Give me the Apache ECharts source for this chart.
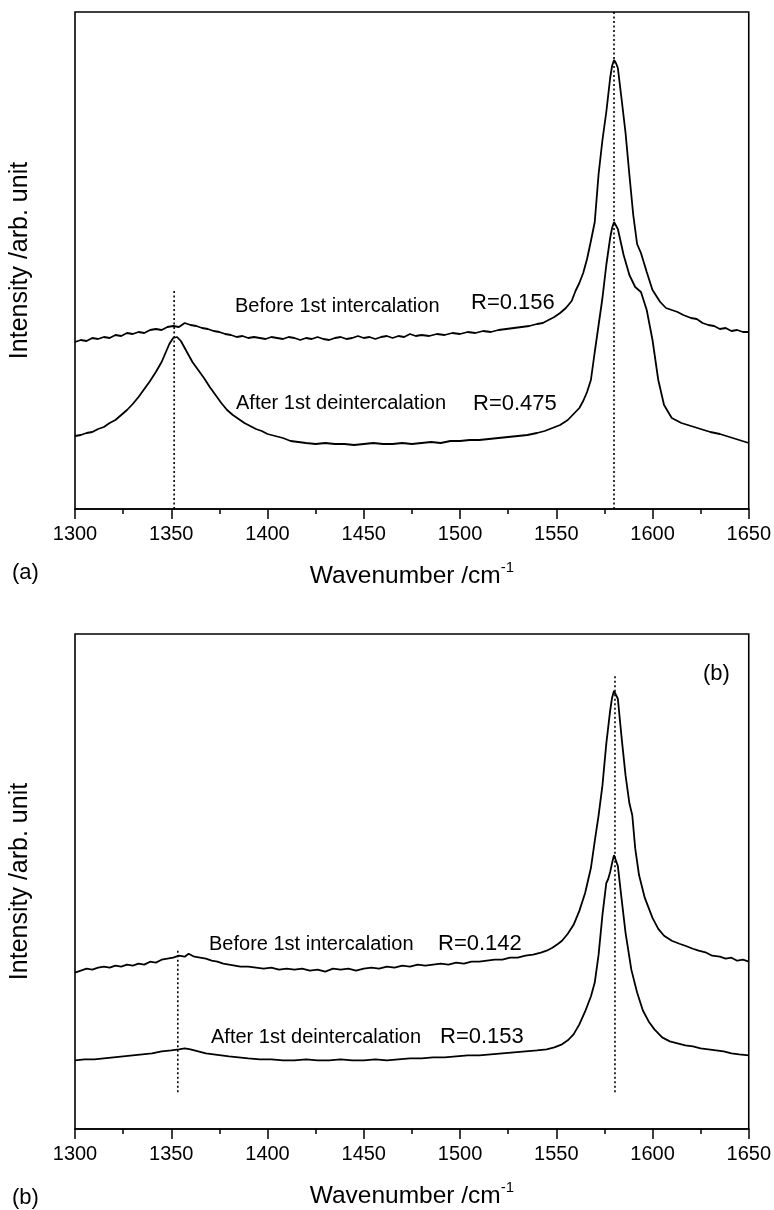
<!DOCTYPE html>
<html>
<head>
<meta charset="utf-8">
<script src="https://cdn.jsdelivr.net/npm/echarts@6/dist/echarts.min.js"></script>
<style>
html,body{margin:0;padding:0;background:#fff;}
#chart{width:774px;height:1210px;}
</style>
</head>
<body>
<div id="chart"></div>
<script>
// ---- data (wavenumber, intensity arb. unit) ----
const xTicks = [1300, 1350, 1400, 1450, 1500, 1550, 1600, 1650];

const aBefore = [[1300,167],[1303,169],[1306,168],[1309,171],[1312,170],[1315,172],[1318,171],[1321,174],[1324,173],[1327,176],[1330,175],[1333,177],[1336,176],[1339,179],[1342,180],[1345,179],[1348,182],[1351,183],[1354,182],[1357,186],[1360,184],[1363,183],[1366,181],[1369,180],[1372,178],[1375,177],[1378,175],[1381,174],[1384,172],[1387,173],[1390,171],[1393,172],[1396,171],[1399,170],[1402,172],[1405,171],[1408,170],[1411,172],[1414,171],[1417,169],[1420,171],[1423,170],[1426,172],[1429,170],[1432,169],[1435,171],[1438,172],[1441,170],[1444,171],[1447,173],[1450,171],[1453,172],[1456,170],[1459,172],[1462,173],[1465,171],[1468,173],[1471,172],[1474,175],[1477,173],[1480,174],[1484,173],[1488,175],[1492,174],[1496,176],[1500,175],[1504,177],[1508,176],[1512,178],[1516,177],[1520,179],[1524,180],[1528,181],[1532,182],[1536,183],[1540,185],[1543,186],[1546,189],[1549,192],[1552,196],[1555,201],[1558,208],[1560,218],[1562,226],[1564,236],[1566,250],[1568,268],[1570,287],[1572,335],[1574,369],[1576,397],[1578,431],[1579,443],[1580,449],[1581,446],[1582,441],[1584,409],[1586,376],[1588,334],[1590,294],[1592,265],[1594,256],[1597,237],[1600,219],[1604,207],[1607,201],[1610,199],[1613,197],[1616,194],[1620,191],[1623,190],[1626,186],[1629,184],[1632,183],[1635,180],[1638,181],[1641,178],[1644,179],[1647,177],[1650,177]];

const aAfter = [[1300,73],[1303,74],[1306,76],[1309,77],[1312,80],[1315,82],[1318,86],[1321,89],[1324,94],[1327,99],[1330,105],[1333,112],[1336,120],[1339,128],[1342,137],[1345,147],[1347,156],[1349,165],[1351,171],[1352,172],[1353,172],[1355,168],[1357,161],[1359,154],[1361,147],[1364,139],[1367,131],[1370,122],[1373,114],[1376,106],[1379,99],[1382,94],[1385,90],[1388,86],[1391,83],[1394,80],[1397,78],[1400,75],[1404,73],[1408,71],[1412,68],[1416,67],[1420,66],[1425,65],[1430,66],[1435,65],[1440,65],[1445,64],[1450,65],[1455,66],[1460,65],[1465,65],[1470,66],[1475,65],[1480,66],[1485,67],[1490,66],[1495,68],[1500,68],[1505,69],[1510,69],[1515,70],[1520,71],[1525,72],[1530,73],[1535,74],[1540,76],[1544,78],[1548,81],[1552,84],[1556,89],[1559,95],[1562,101],[1564,108],[1566,117],[1568,129],[1570,157],[1572,184],[1574,211],[1576,244],[1578,271],[1579,281],[1580,287],[1581,285],[1582,280],[1585,254],[1588,234],[1591,222],[1594,217],[1597,199],[1600,169],[1603,129],[1606,104],[1610,91],[1615,86],[1620,83],[1625,80],[1630,77],[1635,75],[1640,72],[1645,69],[1650,66]];

const bBefore = [[1300,157],[1303,159],[1306,161],[1309,160],[1312,162],[1315,163],[1318,162],[1321,164],[1324,163],[1327,165],[1330,164],[1333,166],[1336,165],[1339,168],[1342,167],[1345,170],[1348,171],[1351,172],[1354,174],[1357,173],[1359,176],[1362,173],[1365,172],[1368,171],[1371,169],[1374,168],[1377,166],[1380,165],[1383,164],[1386,163],[1390,163],[1394,162],[1398,161],[1402,162],[1406,160],[1410,161],[1414,160],[1418,161],[1422,159],[1426,160],[1430,158],[1434,161],[1438,160],[1442,161],[1446,159],[1450,161],[1454,162],[1458,161],[1462,163],[1466,162],[1470,164],[1474,163],[1478,165],[1482,164],[1486,165],[1490,166],[1494,165],[1498,167],[1502,166],[1506,168],[1510,168],[1514,169],[1518,170],[1522,170],[1526,172],[1530,172],[1534,174],[1538,175],[1542,177],[1545,179],[1548,182],[1551,186],[1553,189],[1556,196],[1559,205],[1562,219],[1565,237],[1568,262],[1570,289],[1572,315],[1574,345],[1576,387],[1578,420],[1579,433],[1580,440],[1581,438],[1582,432],[1584,392],[1586,355],[1588,327],[1589.5,315],[1591,282],[1593,255],[1596,232],[1600,212],[1603,201],[1606,194],[1610,189],[1614,186],[1617,184],[1621,181],[1624,179],[1628,177],[1631,174],[1635,173],[1638,171],[1641,172],[1644,169],[1647,170],[1650,168]];

const bAfter = [[1300,69],[1305,70],[1310,70],[1315,71],[1320,72],[1325,73],[1330,74],[1335,75],[1340,76],[1345,78],[1350,79],[1354,80],[1357,81],[1360,80],[1364,78],[1368,76],[1372,75],[1376,74],[1380,73],[1385,72],[1390,71],[1396,70],[1402,70],[1408,69],[1414,69],[1420,70],[1426,69],[1432,69],[1438,70],[1444,69],[1450,69],[1456,70],[1462,69],[1468,70],[1474,71],[1480,71],[1486,72],[1492,72],[1498,73],[1504,74],[1510,74],[1516,75],[1522,76],[1528,77],[1534,78],[1540,79],[1545,80],[1549,82],[1553,85],[1556,89],[1559,95],[1562,105],[1565,118],[1568,133],[1570,147],[1572,175],[1574,215],[1576,247],[1577,251],[1578,258],[1579,267],[1580,275],[1581,273],[1582,264],[1584,230],[1586,197],[1589,160],[1592,137],[1595,119],[1598,108],[1601,100],[1605,92],[1609,88],[1613,86],[1617,84],[1621,83],[1625,81],[1629,80],[1633,79],[1637,78],[1641,76],[1645,75],[1650,74]];

// dotted reference lines: [wavenumber, from intensity, to intensity]
const aRefLines = [[1351.5, 0, 219], [1580, 0, 497]];
const bRefLines = [[1353.4, 37, 181], [1580.5, 37, 457]];

const curveLabels = ['Before 1st intercalation', 'After 1st deintercalation'];
const aRatios = ['R=0.156', 'R=0.475'];
const bRatios = ['R=0.142', 'R=0.153'];

// ---- chart ----
const FONT = '"Liberation Sans", Arial, Helvetica, sans-serif';
const chart = echarts.init(document.getElementById('chart'), null, {renderer: 'canvas'});

function xAxisFor(i) {
  return {
    gridIndex: i, type: 'value', min: 1300, max: 1650, interval: 50,
    axisLine: {show: true, onZero: false, lineStyle: {color: '#000', width: 1.5}},
    axisTick: {show: true, inside: false, length: 10, lineStyle: {color: '#000', width: 1.5}},
    minorTick: {show: true, splitNumber: 2, length: 5, lineStyle: {color: '#000', width: 1.5}},
    splitLine: {show: false}, minorSplitLine: {show: false},
    axisLabel: {color: '#000', fontSize: 20, margin: 15, fontFamily: FONT,
      showMinLabel: true, showMaxLabel: true,
      formatter: v => (xTicks.indexOf(v) >= 0 ? String(v) : '')},
    name: '{b|Wavenumber /cm}{s|-1}', nameLocation: 'middle', nameGap: 51,
    nameTextStyle: {rich: {
      b: {fontSize: 24.5, fontFamily: FONT, color: '#000', lineHeight: 29, verticalAlign: 'bottom'},
      s: {fontSize: 15, fontFamily: FONT, color: '#000', lineHeight: 29, verticalAlign: 'top'}
    }}
  };
}
function yAxisFor(i) {
  return {
    gridIndex: i, type: 'value', min: 0, max: 497,
    axisLine: {show: false}, axisTick: {show: false}, axisLabel: {show: false},
    splitLine: {show: false},
    name: 'Intensity /arb. unit', nameLocation: 'middle', nameGap: 42,
    nameTextStyle: {fontSize: 25, fontFamily: FONT, color: '#000'}
  };
}
function curve(data, i) {
  return {type: 'line', xAxisIndex: i, yAxisIndex: i, data: data, showSymbol: false,
    symbol: 'none', smooth: false, animation: false,
    lineStyle: {color: '#000', width: 1.8}};
}
function refLine(r, i) {
  return {type: 'line', xAxisIndex: i, yAxisIndex: i, data: [[r[0], r[1]], [r[0], r[2]]],
    symbol: 'none', animation: false,
    lineStyle: {color: '#000', width: 1.6, type: [2, 2.5]}};
}

function txt(s, x, y, size, align) {
  return {type: 'text', x: x, y: y, silent: true,
    style: {text: s, fontSize: size, fontFamily: FONT, fill: '#000',
      align: align || 'left', verticalAlign: 'middle'}};
}

const series = [];
series.push(curve(aBefore, 0), curve(aAfter, 0));
aRefLines.forEach(r => series.push(refLine(r, 0)));
series.push(curve(bBefore, 1), curve(bAfter, 1));
bRefLines.forEach(r => series.push(refLine(r, 1)));

chart.setOption({
  backgroundColor: '#fff',
  animation: false,
  grid: [
    {left: 75, top: 12, width: 675, height: 497, show: true, borderColor: '#000', borderWidth: 1.6, backgroundColor: 'transparent'},
    {left: 75, top: 634, width: 675, height: 498, show: true, borderColor: '#000', borderWidth: 1.6, backgroundColor: 'transparent'}
  ],
  xAxis: [xAxisFor(0), xAxisFor(1)],
  yAxis: [yAxisFor(0), yAxisFor(1)],
  series: series,
  graphic: [
    txt(curveLabels[0], 235, 306, 20),
    txt(aRatios[0], 471, 303, 22),
    txt(curveLabels[1], 236, 403, 20),
    txt(aRatios[1], 473, 404, 22),
    txt('(a)', 12, 573, 22),
    txt(curveLabels[0], 209, 944, 20),
    txt(bRatios[0], 438, 944, 22),
    txt(curveLabels[1], 211, 1037, 20),
    txt(bRatios[1], 440, 1037, 22),
    txt('(b)', 703, 674, 22),
    txt('(b)', 12, 1198, 22)
  ]
});
</script>
</body>
</html>
